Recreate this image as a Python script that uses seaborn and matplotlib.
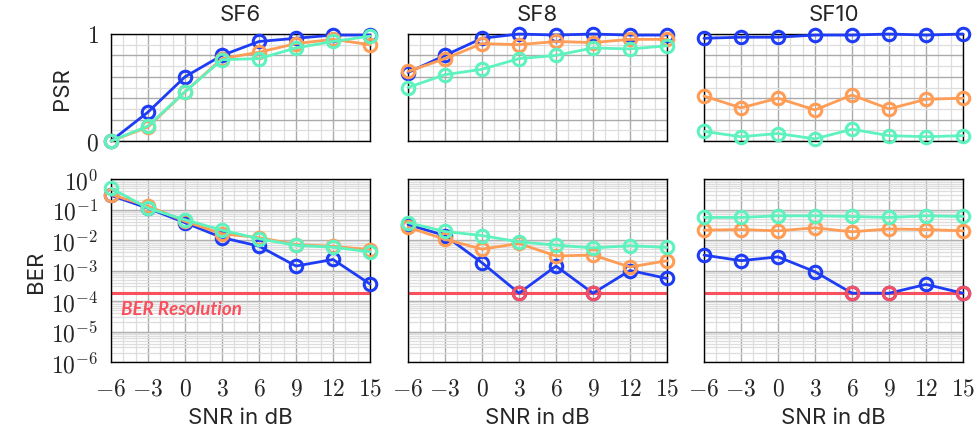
import numpy as np
import pandas as pd
import matplotlib
matplotlib.use('Agg')
from matplotlib import pyplot as plt
from matplotlib.ticker import MultipleLocator, FixedLocator, FuncFormatter, LogLocator, NullFormatter
import seaborn as sns

sns.set_theme(style='white')
plt.rcParams['font.family'] = ['Inter', 'DejaVu Sans']
plt.rcParams['mathtext.fontset'] = 'cm'

# DATA
snr = [-6, -3, 0, 3, 6, 9, 12, 15]
sfs = ['SF6', 'SF8', 'SF10']
ber_resolution = 1.8e-4

psr_blue = {
    'SF6': [0.0, 0.27, 0.60, 0.80, 0.93, 0.96, 0.99, 0.99],
    'SF8': [0.64, 0.80, 0.96, 1.00, 0.99, 1.00, 0.99, 0.99],
    'SF10': [0.96, 0.97, 0.97, 0.99, 0.99, 1.00, 0.99, 1.00],
}
psr_orange = {
    'SF6': [0.0, 0.13, 0.46, 0.77, 0.83, 0.91, 0.95, 0.90],
    'SF8': [0.65, 0.77, 0.91, 0.90, 0.93, 0.92, 0.95, 0.95],
    'SF10': [0.42, 0.31, 0.40, 0.29, 0.43, 0.30, 0.39, 0.40],
}
psr_green = {
    'SF6': [0.0, 0.14, 0.46, 0.76, 0.77, 0.87, 0.93, 0.98],
    'SF8': [0.50, 0.62, 0.67, 0.77, 0.80, 0.87, 0.86, 0.89],
    'SF10': [0.09, 0.04, 0.07, 0.02, 0.11, 0.05, 0.04, 0.05],
}
ber_blue = {
    'SF6': [0.29, 0.11, 0.037, 0.012, 0.0063, 0.0014, 0.0023, 3.6e-4],
    'SF8': [0.032, 0.014, 0.0018, 1.8e-4, 0.0014, 1.8e-4, 0.0010, 5.5e-4],
    'SF10': [0.0032, 0.0021, 0.0028, 9.1e-4, 1.8e-4, 1.8e-4, 3.5e-4, 1.8e-4],
}
ber_orange = {
    'SF6': [0.31, 0.13, 0.041, 0.016, 0.012, 0.0071, 0.0062, 0.0048],
    'SF8': [0.026, 0.0106, 0.005, 0.0077, 0.003, 0.0032, 0.0013, 0.0021],
    'SF10': [0.021, 0.022, 0.020, 0.025, 0.0186, 0.023, 0.022, 0.020],
}
ber_green = {
    'SF6': [0.50, 0.11, 0.046, 0.021, 0.011, 0.0067, 0.0058, 0.0041],
    'SF8': [0.037, 0.019, 0.014, 0.0087, 0.0068, 0.0055, 0.0065, 0.0057],
    'SF10': [0.055, 0.055, 0.062, 0.062, 0.059, 0.055, 0.062, 0.059],
}

colors = {'blue': '#1f3cf5', 'orange': '#ff9c55', 'green': '#5ef2be'}
red = '#f9505d'

W, H = 979, 439
fig = plt.figure(figsize=(W / 100, H / 100), dpi=100)

col_left = [111, 408, 704]
col_w = 259


def ax_at(x0, y0, w, h):
    return fig.add_axes([x0 / W, 1 - (y0 + h) / H, w / W, h / H])


def style_grid(ax):
    ax.grid(which='major', color='#ababab', lw=1.0)
    ax.grid(which='minor', color='#dddddd', lw=0.9)
    ax.set_axisbelow(True)
    for s in ax.spines.values():
        s.set_color('black')
        s.set_linewidth(1.0)
    ax.tick_params(which='both', direction='out', color='#555555', width=0.8,
                   labelsize=17, pad=3)
    ax.tick_params(which='major', length=6)
    ax.tick_params(which='minor', length=4)
    ax.tick_params(axis='x', which='major', length=7.5, pad=4)
    ax.tick_params(axis='x', which='minor', length=5.5)


def draw_series(ax, y, c):
    d = pd.DataFrame({'snr': snr, 'val': y})
    sns.lineplot(data=d, x='snr', y='val', ax=ax, color=c, lw=2.0,
                 marker='o', markersize=9, markerfacecolor='none',
                 markeredgecolor=c, markeredgewidth=2.2, clip_on=False, zorder=3)


xlabels = FuncFormatter(lambda v, p: r'$%d$' % v if v >= 0 else r'$-%d$' % abs(v))

for i, sf in enumerate(sfs):
    # PSR row
    ax = ax_at(col_left[i], 35, col_w, 107)
    draw_series(ax, psr_blue[sf], colors['blue'])
    draw_series(ax, psr_orange[sf], colors['orange'])
    draw_series(ax, psr_green[sf], colors['green'])
    ax.set_xlim(-6, 15)
    ax.set_ylim(0, 1)
    ax.xaxis.set_major_locator(MultipleLocator(3))
    ax.xaxis.set_minor_locator(MultipleLocator(1))
    ax.yaxis.set_major_locator(MultipleLocator(0.2))
    ax.yaxis.set_minor_locator(MultipleLocator(0.1))
    style_grid(ax)
    ax.tick_params(axis='y', which='minor', length=6)
    ax.set_xticklabels([])
    if i == 0:
        ax.yaxis.set_major_formatter(FuncFormatter(
            lambda v, p: r'$%d$' % round(v) if abs(v - round(v)) < 1e-6 else ''))
        ax.set_ylabel('PSR', fontsize=16, labelpad=10)
    else:
        ax.set_yticklabels([])
        ax.set_ylabel('')
    ax.set_xlabel('')
    ax.set_title(sf, fontsize=16, pad=10)

    # BER row
    ax = ax_at(col_left[i], 180, col_w, 183)
    ax.set_yscale('log')
    ax.axhline(ber_resolution, color=red, lw=2.2, zorder=2)
    draw_series(ax, ber_blue[sf], colors['blue'])
    draw_series(ax, ber_orange[sf], colors['orange'])
    draw_series(ax, ber_green[sf], colors['green'])
    hit = [(x, v) for x, v in zip(snr, ber_blue[sf]) if v <= ber_resolution]
    if hit:
        hx, hy = zip(*hit)
        ax.plot(hx, hy, 'o', ms=9, mfc='none', mec=red, mew=2.2, clip_on=False, zorder=4)
    ax.set_xlim(-6, 15)
    ax.set_ylim(1e-6, 1)
    ax.xaxis.set_major_locator(MultipleLocator(3))
    ax.xaxis.set_minor_locator(MultipleLocator(1))
    ax.xaxis.set_major_formatter(xlabels)
    ax.yaxis.set_major_locator(FixedLocator([10.0 ** k for k in range(-6, 1)]))
    ax.yaxis.set_minor_locator(LogLocator(base=10, subs=np.arange(2, 10), numticks=20))
    ax.yaxis.set_minor_formatter(NullFormatter())
    style_grid(ax)
    if i == 0:
        ax.yaxis.set_major_formatter(FuncFormatter(lambda v, p: r'$10^{%d}$' % round(np.log10(v))))
        ax.set_ylabel('BER', fontsize=16, labelpad=4)
        ax.text(-5.2, 1.1e-4, 'BER Resolution', color=red, fontsize=13.5,
                fontweight='bold', fontstyle='italic', va='top', ha='left',
                family=['Lato', 'DejaVu Sans'])
    else:
        ax.set_yticklabels([])
        ax.set_ylabel('')
    ax.set_xlabel('SNR in dB', fontsize=16, labelpad=5)

fig.savefig('out.png', dpi=100)
